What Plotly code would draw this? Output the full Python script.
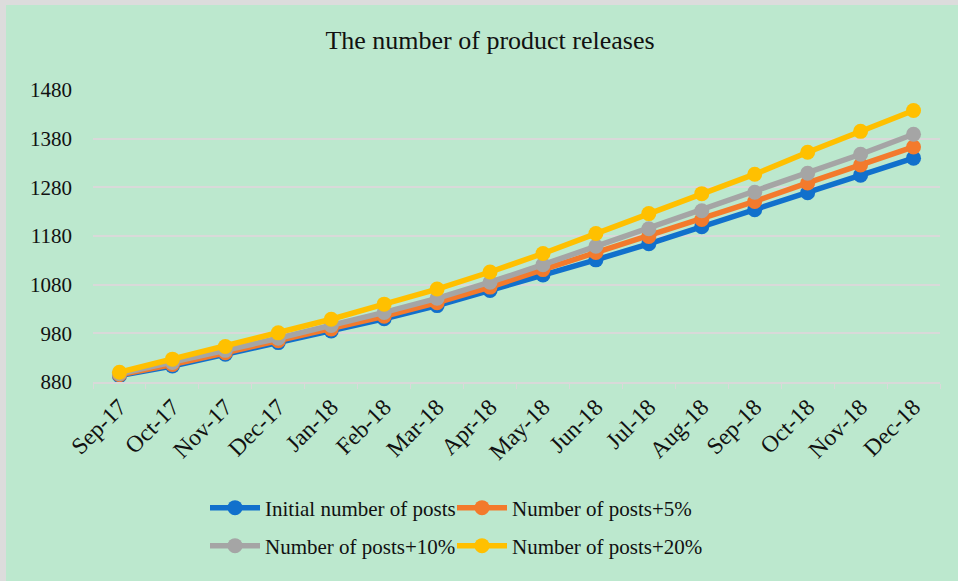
import plotly.graph_objects as go

months = ["Sep-17", "Oct-17", "Nov-17", "Dec-17", "Jan-18", "Feb-18", "Mar-18", "Apr-18",
          "May-18", "Jun-18", "Jul-18", "Aug-18", "Sep-18", "Oct-18", "Nov-18", "Dec-18"]
initial_posts = [893, 913, 937, 961, 985, 1010, 1037, 1068, 1100, 1131, 1164, 1199, 1234, 1269, 1305, 1340]
posts_plus_5 = [895, 916, 940, 965, 989, 1015, 1043, 1075, 1111, 1146, 1179, 1214, 1251, 1289, 1326, 1363]
posts_plus_10 = [897, 920, 945, 970, 996, 1023, 1052, 1085, 1121, 1159, 1195, 1232, 1270, 1309, 1348, 1389]
posts_plus_20 = [900, 927, 953, 981, 1009, 1040, 1071, 1106, 1144, 1185, 1226, 1267, 1307, 1352, 1395, 1438]
y_ticks = [880, 980, 1080, 1180, 1280, 1380, 1480]

W, H = 958, 581
L, R, T, B = 93, 18, 90, 199
SERIF = "Liberation Serif, Times New Roman, serif"

# name, values, colour, legend id, legend left (px), legend row centre (px)
series = [
    ("Initial number of posts", initial_posts, "#1170CC", "legend", 205, 508),
    ("Number of posts+5%", posts_plus_5, "#F37A2C", "legend2", 452, 508),
    ("Number of posts+10%", posts_plus_10, "#A5A5A5", "legend3", 205, 546),
    ("Number of posts+20%", posts_plus_20, "#FFC000", "legend4", 452, 546),
]

pw, ph = W - L - R, H - T - B

fig = go.Figure()
legends = {}
for name, values, color, leg, lx, ly in series:
    fig.add_trace(
        go.Scatter(
            x=months,
            y=values,
            mode="lines+markers",
            name=name,
            line=dict(color=color, width=5.5),
            marker=dict(color=color, size=15),
            legend=leg,
        )
    )
    legends[leg] = dict(
        orientation="h",
        xanchor="left",
        yanchor="middle",
        x=(lx - L) / pw,
        y=(H - B - ly) / ph,
        bgcolor="rgba(0,0,0,0)",
        font=dict(family=SERIF, size=21, color="#111111"),
        itemwidth=50,
    )

# light grey frame at top and left of the picture
fig.add_shape(type="rect", xref="paper", yref="paper", layer="above", line_width=0,
              fillcolor="#dcdcdc", x0=-L / pw, x1=(W - L) / pw,
              y0=(H - B - 5) / ph, y1=(H - B) / ph)
fig.add_shape(type="rect", xref="paper", yref="paper", layer="above", line_width=0,
              fillcolor="#dcdcdc", x0=-L / pw, x1=(6 - L) / pw,
              y0=-B / ph, y1=(H - B) / ph)

fig.update_layout(
    width=W,
    height=H,
    margin=dict(l=L, r=R, t=T, b=B),
    title=dict(text="The number of product releases", x=490 / W, xanchor="center", y=1 - 40 / H,
               yanchor="middle", font=dict(family=SERIF, size=26, color="#111111")),
    paper_bgcolor="#BCE8CE",
    plot_bgcolor="#BCE8CE",
    font=dict(family=SERIF, color="#111111"),
    xaxis=dict(
        type="category",
        tickangle=-45,
        tickfont=dict(family=SERIF, size=23.5),
        showgrid=False,
        showline=True,
        linecolor="#d9d9d9",
        linewidth=2,
        ticks="outside",
        ticklen=5,
        tickcolor="#d9d9d9",
        tickson="boundaries",
        range=[-0.5, 15.5],
    ),
    yaxis=dict(
        range=[880, 1480],
        tickvals=y_ticks,
        tickfont=dict(family=SERIF, size=21),
        showgrid=True,
        gridcolor="#d9d9d9",
        gridwidth=2,
        zeroline=False,
        ticks="",
        ticklabelstandoff=20,
    ),
    showlegend=True,
    **legends,
)

fig.write_html("out.html", config={"displayModeBar": False},
               post_script="document.body.style.margin='0';")
